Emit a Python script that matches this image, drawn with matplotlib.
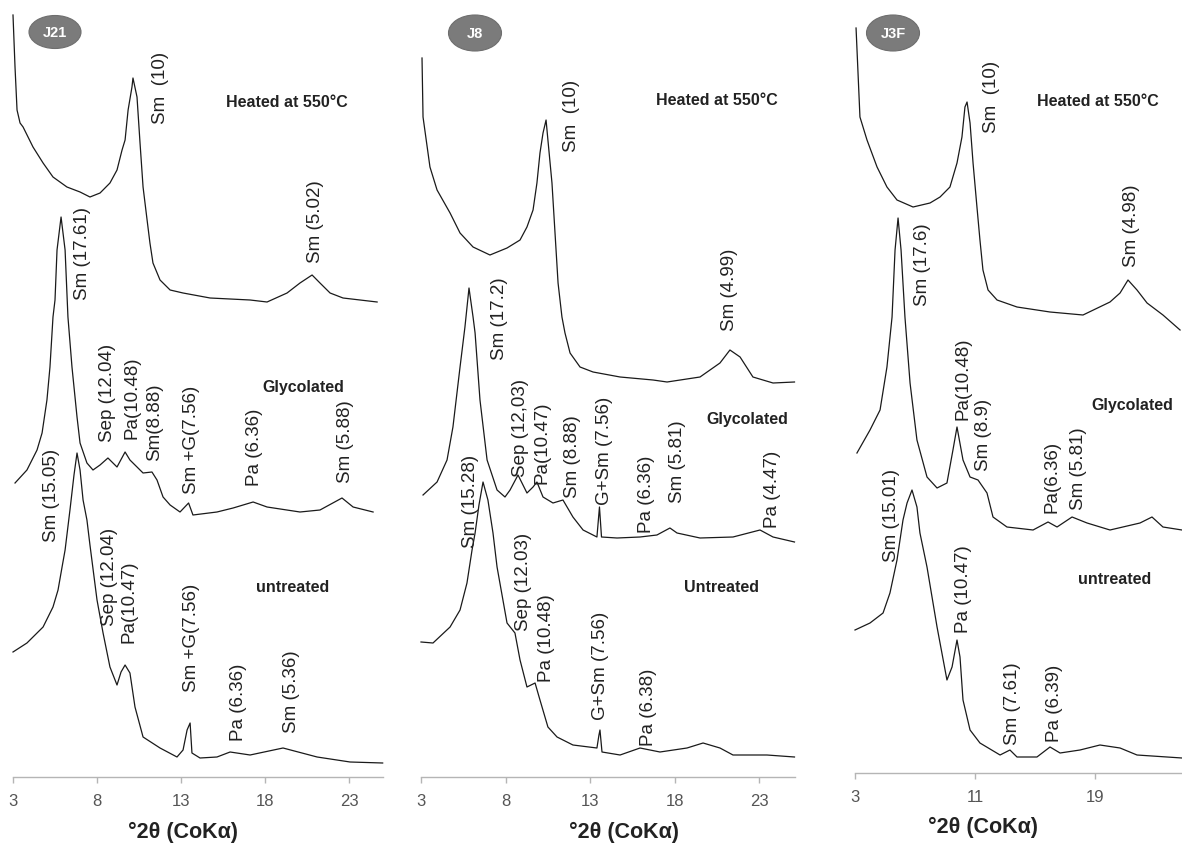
import matplotlib
matplotlib.use("Agg")
import matplotlib.pyplot as plt
from matplotlib.patches import Ellipse

plt.rcParams['font.family'] = ['Liberation Sans', 'DejaVu Sans']

# ---------------- DATA (°2θ, relative intensity) ----------------
# J21
j21_heat_x = [3.0, 3.12, 3.24, 3.42, 3.6, 4.19, 4.79, 5.38, 6.21, 6.99, 7.58, 8.18, 8.77, 9.19, 9.49, 9.67,
              9.85, 10.08, 10.14, 10.38, 10.56, 10.74, 10.98, 11.15, 11.33, 11.75, 12.35, 13.12, 14.73,
              17.11, 18.12, 19.31, 20.08, 20.8, 21.27, 21.87, 22.64, 24.67]
j21_heat_y = [762, 710, 667, 654, 650, 630, 614, 600, 590, 585, 580, 584, 594, 607, 627, 637,
              667, 690, 699, 680, 634, 590, 557, 534, 514, 497, 487, 484, 479,
              477, 475, 484, 494, 502, 494, 484, 479, 475]
j21_gly_x = [3.12, 3.83, 4.43, 4.73, 5.02, 5.20, 5.38, 5.50, 5.62, 5.86, 6.10, 6.27, 6.51, 6.81, 6.99, 7.40,
             7.76, 8.18, 8.65, 9.19, 9.67, 9.96, 10.38, 10.74, 11.27, 11.57, 11.93, 12.35, 12.94, 13.45,
             13.71, 15.14, 16.10, 17.29, 18.12, 20.08, 21.27, 22.58, 23.24, 24.43]
j21_gly_y = [294, 307, 327, 344, 377, 410, 460, 477, 527, 560, 527, 460, 410, 360, 334, 314,
             307, 312, 319, 310, 325, 317, 310, 304, 305, 297, 280, 272, 265, 274,
             262, 265, 269, 275, 270, 265, 267, 279, 270, 265]
j21_unt_x = [3.0, 3.83, 4.79, 5.38, 5.68, 5.92, 6.10, 6.39, 6.63, 6.81, 6.99, 7.17, 7.40, 7.58, 8.0, 8.36,
             8.77, 9.19, 9.43, 9.67, 9.96, 10.26, 10.74, 11.75, 12.76, 13.12, 13.36, 13.54, 13.65, 14.13,
             15.14, 15.92, 17.11, 19.07, 21.10, 23.06, 25.0]
j21_unt_y = [125, 134, 150, 170, 187, 210, 227, 267, 302, 324, 307, 277, 257, 232, 177, 144,
             110, 92, 105, 112, 104, 70, 40, 29, 20, 27, 47, 54, 24, 19,
             20, 25, 22, 29, 20, 15, 14]

# J8
j8_heat_x = [3.06, 3.12, 3.53, 3.95, 4.72, 5.31, 6.08, 7.08, 8.09, 8.86, 9.27, 9.63, 9.86, 10.04, 10.22,
             10.40, 10.51, 10.75, 10.93, 11.11, 11.34, 11.52, 11.82, 12.41, 13.18, 14.78, 16.73, 17.56,
             19.51, 20.69, 21.28, 21.88, 22.64, 23.83, 25.1]
j8_heat_y = [719, 660, 610, 587, 564, 544, 530, 522, 529, 537, 550, 567, 594, 624, 644,
             657, 637, 594, 544, 494, 460, 444, 424, 410, 405, 400, 397, 395,
             400, 414, 427, 420, 400, 394, 395]
j8_gly_x = [3.12, 3.95, 4.54, 4.89, 5.31, 5.60, 5.84, 6.08, 6.20, 6.49, 6.91, 7.50, 7.97, 8.27, 8.74, 9.27,
            9.63, 9.86, 10.22, 10.81, 11.40, 11.99, 12.59, 13.41, 13.56, 13.68, 14.60, 15.96, 16.96,
            17.73, 18.15, 19.51, 21.46, 23.06, 23.83, 25.1]
j8_gly_y = [282, 295, 317, 350, 410, 450, 489, 460, 444, 377, 317, 287, 280, 287, 302, 284,
            290, 295, 280, 274, 277, 260, 247, 240, 270, 240, 239, 240, 242,
            249, 244, 239, 240, 247, 240, 235]
j8_unt_x = [3.0, 3.71, 4.72, 5.31, 5.72, 6.02, 6.20, 6.43, 6.67, 6.96, 7.26, 7.50, 8.09, 8.56, 8.86, 9.27,
            9.75, 10.04, 10.51, 11.05, 11.99, 13.41, 13.53, 13.59, 13.71, 14.78, 15.96, 17.14, 18.74,
            19.69, 20.69, 21.46, 23.47, 25.1]
j8_unt_y = [135, 134, 150, 167, 194, 227, 244, 272, 295, 277, 244, 210, 154, 144, 117, 90,
            94, 77, 50, 40, 32, 29, 42, 47, 25, 22, 29, 25, 29,
            34, 29, 22, 22, 20]

# J3F
j3f_heat_x = [3.07, 3.33, 3.80, 4.47, 5.13, 5.80, 6.87, 8.0, 8.67, 9.33, 9.8, 10.13, 10.33, 10.47, 10.67,
              10.87, 11.13, 11.33, 11.53, 11.87, 12.47, 13.8, 16.0, 18.2, 20.0, 20.67, 21.2, 21.8, 22.47,
              23.53, 24.67]
j3f_heat_y = [749, 660, 637, 610, 590, 577, 570, 574, 580, 590, 614, 640, 670, 675, 654,
              614, 570, 537, 507, 487, 477, 470, 465, 462, 475, 484, 497, 487, 474,
              462, 447]
j3f_gly_x = [3.13, 4.0, 4.67, 5.13, 5.47, 5.67, 5.87, 6.07, 6.33, 6.67, 7.13, 7.8, 8.47, 9.13, 9.53, 9.8,
             10.2, 10.67, 11.2, 11.8, 12.2, 13.13, 14.87, 15.87, 16.47, 17.47, 18.47, 20.0, 22.0, 22.8,
             23.53, 24.8]
j3f_gly_y = [324, 347, 367, 410, 460, 527, 559, 527, 460, 394, 337, 300, 289, 294, 327, 350,
             317, 300, 297, 284, 260, 250, 247, 255, 250, 260, 254, 247, 254, 260,
             250, 247]
j3f_unt_x = [3.0, 4.0, 4.87, 5.33, 5.8, 6.2, 6.47, 6.8, 7.13, 7.33, 7.8, 8.47, 9.13, 9.47, 9.8, 10.0,
             10.2, 10.67, 11.33, 12.67, 13.33, 13.8, 15.13, 16.0, 16.67, 18.0, 19.33, 20.67, 21.8, 24.8]
j3f_unt_y = [147, 154, 164, 184, 217, 257, 274, 287, 270, 244, 210, 150, 97, 110, 137, 120,
             77, 47, 34, 22, 27, 20, 20, 30, 24, 27, 32, 29, 22, 19]

# peak labels: (text, °2θ, intensity)
j21_labels = [("Sm  (10)", 11.8, 689), ("Sm (5.02)", 20.98, 555), ("Sm (17.61)", 7.11, 524),
              ("Sep (12.04)", 8.6, 384), ("Pa(10.48)", 10.08, 379), ("Sm(8.88)", 11.45, 355),
              ("Sm +G(7.56)", 13.65, 337), ("Pa (6.36)", 17.4, 330), ("Sm (5.88)", 22.8, 335),
              ("Sm (15.05)", 5.32, 282), ("Sep (12.04)", 8.77, 200), ("Pa(10.47)", 9.9, 175),
              ("Sm +G(7.56)", 13.6, 139), ("Pa (6.36)", 16.45, 75), ("Sm (5.36)", 19.6, 85)]
j8_labels = [("Sm  (10)", 11.93, 661), ("Sm (4.99)", 21.28, 487), ("Sm (17.2)", 7.67, 458),
             ("Sep (12,03)", 8.86, 349), ("Pa(10.47)", 10.16, 334), ("Sm (8.88)", 11.99, 320),
             ("G+Sm (7.56)", 13.83, 326), ("Pa (6.36)", 16.37, 283), ("Sm (5.81)", 18.2, 315),
             ("Pa (4.47)", 23.77, 288), ("Sm (15.28)", 5.9, 276), ("Sep (12.03)", 9.09, 195),
             ("Pa (10.48)", 10.4, 139), ("G+Sm (7.56)", 13.65, 111), ("Pa (6.38)", 16.49, 70)]
j3f_labels = [("Sm  (10)", 12.07, 680), ("Sm (4.98)", 21.4, 551), ("Sm (17.6)", 7.47, 512),
              ("Pa(10.48)", 10.2, 398), ("Sm (8.9)", 11.6, 342), ("Pa(6.36)", 16.13, 300),
              ("Sm (5.81)", 17.87, 308), ("Sm (15.01)", 5.4, 261), ("Pa (10.47)", 10.2, 188),
              ("Sm (7.61)", 13.53, 73), ("Pa (6.39)", 16.27, 74)]
# treatment captions: (text, °2θ, intensity)
j21_captions = [("Heated at 550°C", 19.31, 675), ("Glycolated", 20.26, 390), ("untreated", 19.67, 189)]
j8_captions = [("Heated at 550°C", 20.51, 677), ("Glycolated", 22.29, 358), ("Untreated", 20.81, 189)]
j3f_captions = [("Heated at 550°C", 19.2, 676), ("Glycolated", 21.47, 372), ("untreated", 20.33, 198)]

sample_names = ["J21", "J8", "J3F"]
ticks_j21 = [3, 8, 13, 18, 23]
ticks_j8 = [3, 8, 13, 18, 23]
ticks_j3f = [3, 11, 19]
x_title = "°2θ (CoKα)"

# ---------------- FIGURE ----------------
W, H = 1182, 843
fig = plt.figure(figsize=(W / 100, H / 100), dpi=100)
fig.patch.set_facecolor('white')

LINE = '#1a1a1a'
TXT = '#222222'

panels = [
    dict(rect=[13 / W, 66 / H, 370 / W, 767 / H], xlim=(3, 25.02), ylim=(0, 767), ticks=ticks_j21,
         series=[(j21_heat_x, j21_heat_y), (j21_gly_x, j21_gly_y), (j21_unt_x, j21_unt_y)],
         labels=j21_labels, captions=j21_captions, xlab=0.459, badge=(55, 32, 52, 33)),
    dict(rect=[421 / W, 66 / H, 374 / W, 767 / H], xlim=(3, 25.13), ylim=(0, 767), ticks=ticks_j8,
         series=[(j8_heat_x, j8_heat_y), (j8_gly_x, j8_gly_y), (j8_unt_x, j8_unt_y)],
         labels=j8_labels, captions=j8_captions, xlab=0.543, badge=(475, 33, 53, 36)),
    dict(rect=[855 / W, 70 / H, 327 / W, 763 / H], xlim=(3, 24.8), ylim=(4, 767), ticks=ticks_j3f,
         series=[(j3f_heat_x, j3f_heat_y), (j3f_gly_x, j3f_gly_y), (j3f_unt_x, j3f_unt_y)],
         labels=j3f_labels, captions=j3f_captions, xlab=0.391, badge=(893, 33, 53, 36)),
]

overlay = fig.add_axes([0, 0, 1, 1], zorder=5)
overlay.set_xlim(0, W)
overlay.set_ylim(H, 0)
overlay.axis('off')
overlay.patch.set_alpha(0)

for p, name in zip(panels, sample_names):
    ax = fig.add_axes(p['rect'])
    for xs, ys in p['series']:
        ax.plot(xs, ys, color=LINE, lw=0.9, clip_on=False)
    ax.set_xlim(*p['xlim'])
    ax.set_ylim(*p['ylim'])
    ax.set_xticks(p['ticks'])
    ax.set_yticks([])
    for s in ['top', 'right', 'left']:
        ax.spines[s].set_visible(False)
    ax.spines['bottom'].set_color('#b5b5b5')
    ax.spines['bottom'].set_linewidth(1.0)
    ax.tick_params(axis='x', direction='out', length=4, width=1, color='#b5b5b5',
                   labelsize=12, labelcolor='#555555', pad=8)
    ax.set_xlabel(x_title, fontsize=15.5, fontweight='bold', color=TXT)
    ax.xaxis.set_label_coords(p['xlab'], -0.072)
    ax.xaxis.label.set_verticalalignment('center')
    ax.patch.set_alpha(0)
    for t, x, y in p['labels']:
        ax.text(x, y, t, rotation=90, ha='center', va='center', fontsize=13.5, color=TXT)
    for t, x, y in p['captions']:
        ax.text(x, y, t, ha='center', va='center', fontsize=11.5, fontweight='bold', color=TXT)
    bx, by, bw, bh = p['badge']
    overlay.add_patch(Ellipse((bx, by), bw, bh, facecolor='#7b7b7b', edgecolor='#6e6e6e', lw=0.8))
    overlay.text(bx, by + 1, name, ha='center', va='center', fontsize=10.5, fontweight='bold',
                 color='white')

fig.savefig('out.png', dpi=100, facecolor='white')
